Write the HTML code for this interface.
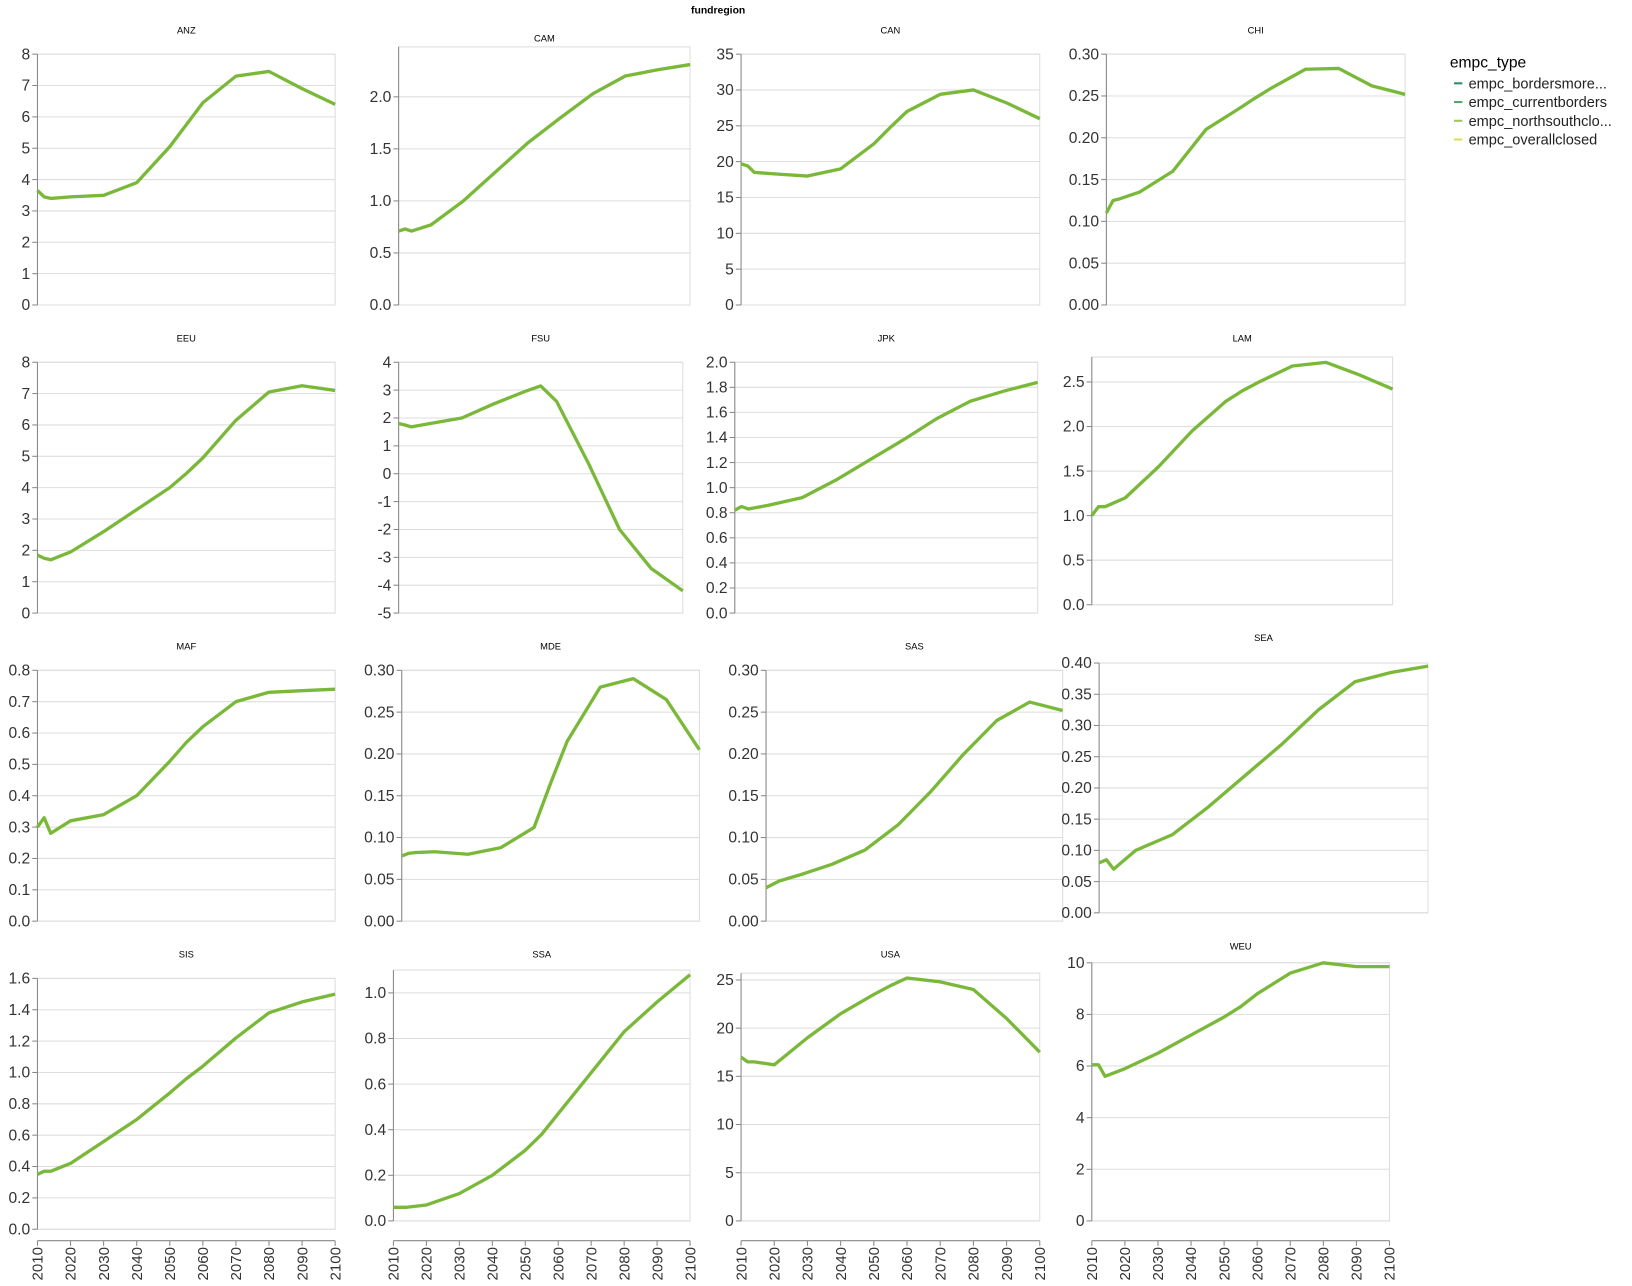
<!DOCTYPE html>
<html><head><meta charset="utf-8"><style>
html,body{margin:0;padding:0;background:#fff;}
svg{display:block;font-family:"Liberation Sans",sans-serif;}
</style></head><body>
<svg id="chart" width="1632" height="1286" viewBox="0 0 1568 1235.5" xmlns="http://www.w3.org/2000/svg">
<text x="690" y="13" font-size="10" font-weight="bold" text-anchor="middle">fundregion</text>
<g>
<text x="1393" y="65" font-size="15" fill="#000">empc_type</text>
<g><line x1="1397" x2="1405" y1="80" y2="80" stroke="#2e8a6a" stroke-width="2"/><text x="1411" y="85" font-size="14" fill="#222">empc_bordersmore...</text></g>
<g><line x1="1397" x2="1405" y1="98" y2="98" stroke="#4fa86a" stroke-width="2"/><text x="1411" y="103" font-size="14" fill="#222">empc_currentborders</text></g>
<g><line x1="1397" x2="1405" y1="116" y2="116" stroke="#98c95a" stroke-width="2"/><text x="1411" y="121" font-size="14" fill="#222">empc_northsouthclo...</text></g>
<g><line x1="1397" x2="1405" y1="134" y2="134" stroke="#d8e04a" stroke-width="2"/><text x="1411" y="139" font-size="14" fill="#222">empc_overallclosed</text></g>
</g>
</svg>
<script>
const years = [2010,2012,2014,2020,2030,2040,2050,2055,2060,2070,2080,2090,2100];
const xTicks = [2010,2020,2030,2040,2050,2060,2070,2080,2090,2100];
const regions = ["ANZ","CAM","CAN","CHI","EEU","FSU","JPK","LAM","MAF","MDE","SAS","SEA","SIS","SSA","USA","WEU"];
const valsANZ = [3.65,3.45,3.4,3.45,3.5,3.9,5.05,5.75,6.45,7.3,7.45,6.9,6.4];
const valsCAM = [0.71,0.73,0.71,0.77,1.0,1.28,1.56,1.68,1.8,2.03,2.2,2.26,2.31];
const valsCAN = [19.7,19.4,18.5,18.3,18.0,19.0,22.5,24.8,27.0,29.4,30.0,28.2,26.0];
const valsCHI = [0.11,0.125,0.127,0.135,0.16,0.21,0.235,0.248,0.26,0.282,0.283,0.262,0.252];
const valsEEU = [1.85,1.75,1.7,1.95,2.6,3.3,4.0,4.45,4.95,6.15,7.05,7.25,7.1];
const valsFSU = [1.8,1.75,1.68,1.8,2.0,2.5,2.95,3.15,2.6,0.4,-2.0,-3.4,-4.2];
const valsJPK = [0.82,0.85,0.83,0.86,0.92,1.06,1.22,1.3,1.38,1.55,1.69,1.77,1.84];
const valsLAM = [1.0,1.1,1.1,1.2,1.55,1.95,2.28,2.4,2.5,2.68,2.72,2.58,2.42];
const valsMAF = [0.3,0.33,0.28,0.32,0.34,0.4,0.51,0.57,0.62,0.7,0.73,0.735,0.74];
const valsMDE = [0.078,0.081,0.082,0.083,0.08,0.088,0.112,0.165,0.215,0.28,0.29,0.265,0.205];
const valsSAS = [0.04,0.044,0.048,0.055,0.068,0.085,0.115,0.135,0.155,0.2,0.24,0.262,0.252];
const valsSEA = [0.08,0.085,0.07,0.1,0.125,0.17,0.22,0.245,0.27,0.325,0.37,0.385,0.395];
const valsSIS = [0.35,0.37,0.37,0.42,0.56,0.7,0.87,0.96,1.04,1.22,1.38,1.45,1.5];
const valsSSA = [0.06,0.06,0.06,0.07,0.12,0.2,0.31,0.38,0.47,0.65,0.83,0.96,1.08];
const valsUSA = [17,16.5,16.5,16.2,19,21.5,23.5,24.4,25.2,24.8,24,21,17.5];
const valsWEU = [6.05,6.05,5.6,5.9,6.5,7.2,7.9,8.3,8.8,9.6,10,9.85,9.85];
const series = {ANZ:valsANZ,CAM:valsCAM,CAN:valsCAN,CHI:valsCHI,EEU:valsEEU,FSU:valsFSU,JPK:valsJPK,LAM:valsLAM,MAF:valsMAF,MDE:valsMDE,SAS:valsSAS,SEA:valsSEA,SIS:valsSIS,SSA:valsSSA,USA:valsUSA,WEU:valsWEU};
const layout = {
 ANZ:[36,322,52,293,0,8,1,0], CAM:[383,663,45,293,0,2.48,0.5,1], CAN:[712,999,52,293,0,35,5,0], CHI:[1063,1350,52,293,0,0.30,0.05,2],
 EEU:[36,322,348,589,0,8,1,0], FSU:[383,656,348,589,-5,4,1,0], JPK:[706,997,348,589,0,2.0,0.2,1], LAM:[1049,1338,343,581,0,2.78,0.5,1],
 MAF:[36,322,644,885,0,0.8,0.1,1], MDE:[386,672,644,885,0,0.30,0.05,2], SAS:[736,1021,644,885,0,0.30,0.05,2], SEA:[1056,1372,637,877,0,0.40,0.05,2],
 SIS:[36,322,940,1181,0,1.6,0.2,1], SSA:[378,663,932,1173,0,1.1,0.2,1], USA:[712,999,935,1173,0,25.7,5,0], WEU:[1049,1335,925,1173,0,10,2,0]
};
const titleY = {ANZ:32,CAM:40,CAN:32,CHI:32,EEU:328,FSU:328,JPK:328,LAM:328,MAF:624,MDE:624,SAS:624,SEA:616,SIS:920,SSA:920,USA:920,WEU:912};
const NS="http://www.w3.org/2000/svg";
const svg=document.getElementById('chart');
function mk(tag,attrs,parent){const e=document.createElementNS(NS,tag);for(const k in attrs)e.setAttribute(k,attrs[k]);(parent||svg).appendChild(e);return e;}
regions.forEach((r,i)=>{
 const [x0,x1,top,bot,ymin,ymax,step,dec]=layout[r];
 const xs=y=>x0+(y-2010)/90*(x1-x0);
 const ys=v=>bot-(v-ymin)/(ymax-ymin)*(bot-top);
 const g=mk('g',{});
 
 
 const t=mk('text',{x:(x0+x1)/2,y:titleY[r],'font-size':9,'text-anchor':'middle',fill:'#000'},g);
 t.textContent=r;
 
 
 mk('rect',{x:x0,y:top,width:x1-x0,height:bot-top,fill:'none',stroke:'#ddd','stroke-width':1},g);
 const n=Math.round((ymax-ymin)/step+1e-9);
 for(let k=0;k<=n;k++){
  const v=ymin+k*step; if(v>ymax+1e-9)break;
  const yy=ys(v);
  mk('line',{x1:x0,x2:x1,y1:yy,y2:yy,stroke:'#ddd','stroke-width':1},g);
  mk('line',{x1:x0-5,x2:x0,y1:yy,y2:yy,stroke:'#888','stroke-width':1},g);
  const lb=mk('text',{x:x0-7,y:yy+5,'font-size':15,'text-anchor':'end',fill:'#333'},g);
  lb.textContent=v.toFixed(dec);
  
  
 }
 mk('line',{x1:x0,x2:x0,y1:top,y2:bot,stroke:'#888','stroke-width':1},g);
 const d=years.map((y,j)=>(j?'L':'M')+xs(y).toFixed(1)+','+ys(series[r][j]).toFixed(1)).join('');
 const p=mk('path',{d:d,fill:'none',stroke:'#7ab83a','stroke-width':3.2,'stroke-linejoin':'round'},g);
 
 
 if(i>=12){
  const ay=1192;
  mk('line',{x1:x0,x2:x1,y1:ay,y2:ay,stroke:'#888','stroke-width':1},g);
  xTicks.forEach(y=>{
   const xx=xs(y);
   mk('line',{x1:xx,x2:xx,y1:ay,y2:ay+5,stroke:'#888','stroke-width':1},g);
   const lb=mk('text',{x:0,y:0,'font-size':14.5,'text-anchor':'end',fill:'#333',transform:`translate(${xx+5},${ay+6}) rotate(-90)`},g);
   lb.textContent=y;
   
   
  });
 }
});
</script>
</body></html>
